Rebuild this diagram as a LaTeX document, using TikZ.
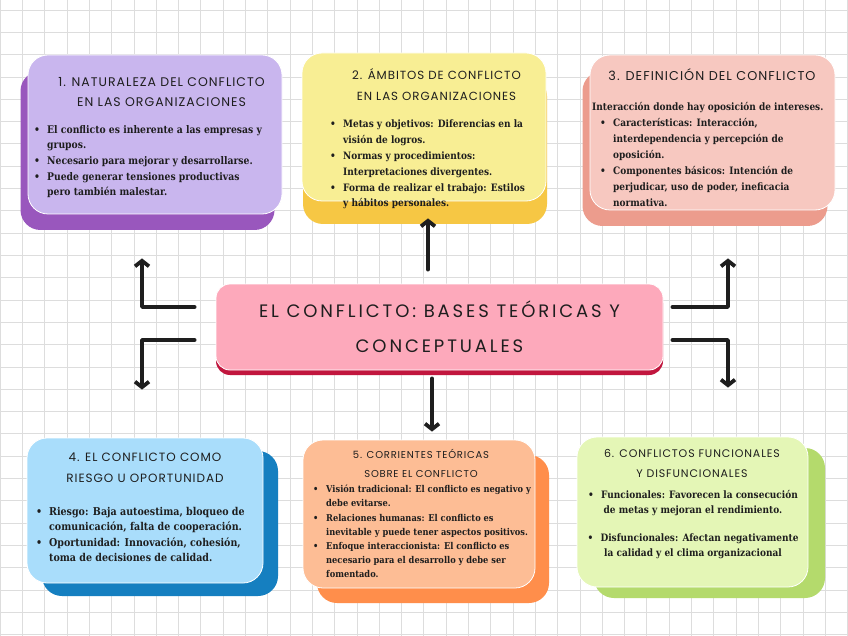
\documentclass[tikz,border=0pt]{standalone}
\usepackage{fontspec}
\newfontfamily\bodyfont{DejaVu Serif}[FakeStretch=0.88]
\newfontfamily\ttlfont{Poppins}[LetterSpace=8]
\newfontfamily\hdfont{Poppins}[LetterSpace=16]
\usetikzlibrary{arrows.meta,shadows}

\definecolor{lilac}{HTML}{C9B6EE}
\definecolor{lilacdk}{HTML}{9957BD}
\definecolor{lemon}{HTML}{F8EE94}
\definecolor{lemondk}{HTML}{F6C744}
\definecolor{salmon}{HTML}{F7C8C0}
\definecolor{salmondk}{HTML}{EC9C8D}
\definecolor{sky}{HTML}{A9DDFB}
\definecolor{skydk}{HTML}{157FC0}
\definecolor{peach}{HTML}{FDBD95}
\definecolor{peachdk}{HTML}{FF8E4B}
\definecolor{lime}{HTML}{E4F6B6}
\definecolor{limedk}{HTML}{B4DA6C}
\definecolor{rosa}{HTML}{FDA9BB}
\definecolor{rosadk}{HTML}{C1163E}
\definecolor{ink}{HTML}{1E1E1E}
\definecolor{gridc}{HTML}{DDDDDD}

\newcommand\bpt{\makebox[13pt][l]{\textbullet}}
\newcommand\bgap{\hspace*{13pt}}

\begin{document}
\begin{tikzpicture}[
    x=1pt, y=-1pt,
    card/.style={rounded corners=20pt, draw=white, line width=0.8pt, inner sep=0pt},
    ttl/.style={align=center, inner sep=0pt, text=ink},
    body/.style={align=left, inner sep=0pt, anchor=north west, text=ink},
    arr/.style={draw=ink, line width=3.8pt, line cap=round, line join=round, -{Straight Barb[length=5.5pt,width=14pt]}},
    gridline/.style={draw=gridc, line width=0.6pt}
]
\useasboundingbox (0,0) rectangle (848,636);
\fill[white] (0,0) rectangle (848,636);
\foreach \gx in {0,...,38} \draw[gridline] (22.3*\gx,0) -- (22.3*\gx,636);
\foreach \gy in {0,...,28} \draw[gridline] (0,10+22.3*\gy) -- (848,10+22.3*\gy);

% cards
\node[card, fill=lilac, minimum width=254pt, minimum height=159pt,
  drop shadow={shadow xshift=-7.5pt, shadow yshift=-16pt, fill=lilacdk, opacity=1}] (b1) at (155,134.5) {};
\node[card, fill=lemon, minimum width=244pt, minimum height=148pt,
  drop shadow={shadow xshift=1pt, shadow yshift=-23pt, fill=lemondk, opacity=1}] (b2) at (424,127) {};
\node[card, fill=salmon, minimum width=245pt, minimum height=155pt,
  drop shadow={shadow xshift=-7.5pt, shadow yshift=-16pt, fill=salmondk, opacity=1}] (b3) at (712.5,132.5) {};
\node[card, fill=sky, minimum width=236pt, minimum height=145pt,
  drop shadow={shadow xshift=15pt, shadow yshift=-13pt, fill=skydk, opacity=1}] (b4) at (145,510.5) {};
\node[card, fill=peach, minimum width=232pt, minimum height=148pt,
  drop shadow={shadow xshift=14pt, shadow yshift=-15pt, fill=peachdk, opacity=1}] (b5) at (419,514) {};
\node[card, fill=lime, minimum width=231pt, minimum height=150pt,
  drop shadow={shadow xshift=17pt, shadow yshift=-11pt, fill=limedk, opacity=1}] (b6) at (692.5,512) {};
\node[card, rounded corners=14pt, fill=rosa, minimum width=447pt, minimum height=86pt,
  drop shadow={shadow xshift=0pt, shadow yshift=-5pt, fill=rosadk, opacity=1},
  align=center, text=ink, font={\hdfont\fontsize{18}{35}\selectfont}] (ctr) at (439.5,327)
  {EL CONFLICTO: BASES TEÓRICAS Y\\CONCEPTUALES};

% titles
\node[ttl, font={\ttlfont\fontsize{12.5}{20}\selectfont}] (h1) at (161.5,92) {1. NATURALEZA DEL CONFLICTO\\EN LAS ORGANIZACIONES};
\node[ttl, font={\ttlfont\fontsize{11.8}{21}\selectfont}] (h2) at (436.5,84.5) {2. ÁMBITOS DE CONFLICTO\\EN LAS ORGANIZACIONES};
\node[ttl, font={\ttlfont\fontsize{12.8}{20}\selectfont}] (h3) at (712,75) {3. DEFINICIÓN DEL CONFLICTO};
\node[ttl, font={\ttlfont\fontsize{12}{21}\selectfont}] (h4) at (145,467.5) {4. EL CONFLICTO COMO\\RIESGO U OPORTUNIDAD};
\node[ttl, font={\ttlfont\fontsize{10}{19}\selectfont}] (h5) at (421,463.5) {5. CORRIENTES TEÓRICAS\\SOBRE EL CONFLICTO};
\node[ttl, font={\ttlfont\fontsize{11}{20}\selectfont}] (h6) at (692,463) {6. CONFLICTOS FUNCIONALES\\Y DISFUNCIONALES};

% texts
\node[body, font={\bodyfont\bfseries\fontsize{10.5}{15.7}\selectfont}] (t1) at (34,125)
  {\bpt El conflicto es inherente a las empresas y\\\bgap grupos.\\
   \bpt Necesario para mejorar y desarrollarse.\\
   \bpt Puede generar tensiones productivas\\\bgap pero también malestar.};
\node[body, font={\bodyfont\bfseries\fontsize{10.2}{15.8}\selectfont}] (t2) at (330,120)
  {\bpt Metas y objetivos: Diferencias en la\\\bgap visión de logros.\\
   \bpt Normas y procedimientos:\\\bgap Interpretaciones divergentes.\\
   \bpt Forma de realizar el trabajo: Estilos\\\bgap y hábitos personales.};
\node[body, font={\bodyfont\bfseries\fontsize{10.2}{16}\selectfont}] (t3) at (592,102)
  {Interacción donde hay oposición de intereses.\\
   \hspace*{8pt}\bpt Características: Interacción,\\\hspace*{8pt}\bgap interdependencia y percepción de\\\hspace*{8pt}\bgap oposición.\\
   \hspace*{8pt}\bpt Componentes básicos: Intención de\\\hspace*{8pt}\bgap perjudicar, uso de poder, ineficacia\\\hspace*{8pt}\bgap normativa.};
\node[body, font={\bodyfont\bfseries\fontsize{10.8}{15.3}\selectfont}] (t4) at (36,507)
  {\bpt Riesgo: Baja autoestima, bloqueo de\\\bgap comunicación, falta de cooperación.\\
   \bpt Oportunidad: Innovación, cohesión,\\\bgap toma de decisiones de calidad.};
\node[body, font={\bodyfont\bfseries\fontsize{9.4}{14.2}\selectfont}] (t5) at (313,485)
  {\bpt Visión tradicional: El conflicto es negativo y\\\bgap debe evitarse.\\
   \bpt Relaciones humanas: El conflicto es\\\bgap inevitable y puede tener aspectos positivos.\\
   \bpt Enfoque interaccionista: El conflicto es\\\bgap necesario para el desarrollo y debe ser\\\bgap fomentado.};
\node[body, anchor=north, align=center, font={\bodyfont\bfseries\fontsize{10.2}{15.5}\selectfont}] (t6) at (693,490)
  {\bpt Funcionales: Favorecen la consecución\\de metas y mejoran el rendimiento.\\[12pt]
   \bpt Disfuncionales: Afectan negativamente\\la calidad y el clima organizacional};

% arrows
\draw[arr] ([shift={(-21pt,20pt)}]ctr.west) -| ([shift={(-13pt,-44pt)}]b1.south);
\draw[arr] ([shift={(-21pt,-13pt)}]ctr.west) -| ([shift={(-3pt,48pt)}]b4.north);
\draw[arr] ([shift={(-11.5pt,14pt)}]ctr.north) -- ([shift={(4pt,-17pt)}]b2.south);
\draw[arr] ([shift={(-7.5pt,-8pt)}]ctr.south) -- ([shift={(13pt,8pt)}]b5.north);
\draw[arr] ([shift={(9pt,20pt)}]ctr.east) -| ([shift={(15.5pt,-48pt)}]b3.south);
\draw[arr] ([shift={(9pt,-13pt)}]ctr.east) -| ([shift={(35.5pt,49pt)}]b6.north);

\end{tikzpicture}
\end{document}
